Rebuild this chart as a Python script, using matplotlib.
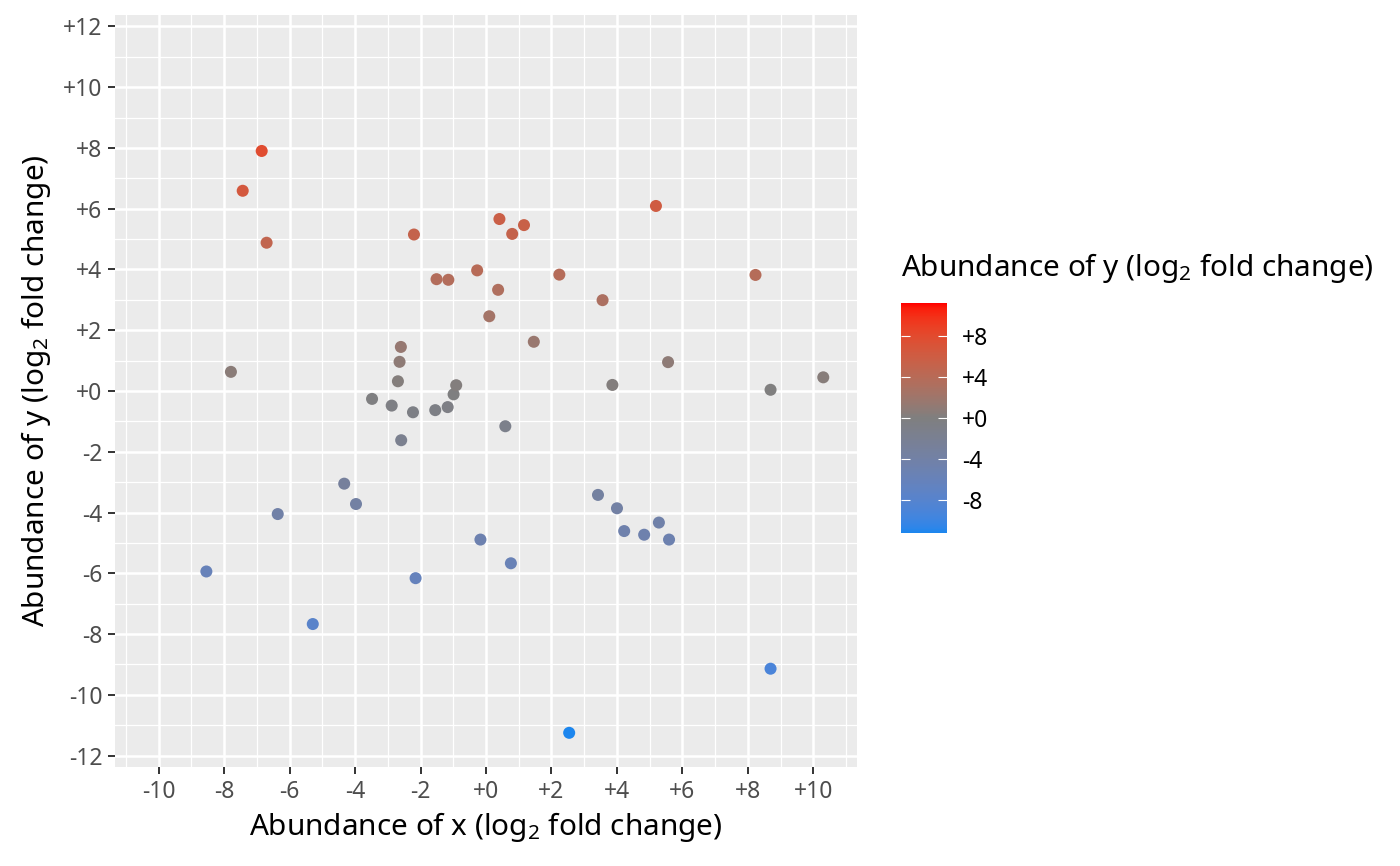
import numpy as np
import matplotlib
matplotlib.use("Agg")
import matplotlib.pyplot as plt
from matplotlib.colors import ListedColormap, Normalize
from matplotlib.cm import ScalarMappable
from matplotlib.ticker import FixedLocator, FuncFormatter

plt.rcParams["font.family"] = ["Noto Sans", "DejaVu Sans"]
plt.rcParams["mathtext.fontset"] = "custom"
plt.rcParams["mathtext.rm"] = "Noto Sans"
plt.rcParams["mathtext.it"] = "Noto Sans:italic"

# log2 fold changes
x_vals = [-6.85, -7.43, -6.70, -2.20, 0.41, 0.80, 1.16, -1.51, -1.15, -0.27,
          0.37, 0.10, 1.46, -7.79, -2.60, -2.64, -2.69, -3.48, -2.88, -2.23,
          -1.55, -1.17, -0.99, -0.91, 0.59, -2.59,
          5.19, 2.24, 3.56, 5.56, 3.86, 8.23, 8.69, 10.30,
          3.42, 4.00, 4.22, 4.83, 5.28, 5.59, 2.54, 8.69,
          -8.54, -6.36, -4.33, -3.97, -5.29, -2.15, -0.17, 0.76]
y_vals = [7.90, 6.59, 4.88, 5.15, 5.66, 5.17, 5.46, 3.68, 3.66, 3.97,
          3.33, 2.46, 1.62, 0.63, 1.45, 0.96, 0.32, -0.26, -0.48, -0.70,
          -0.63, -0.53, -0.11, 0.19, -1.16, -1.62,
          6.09, 3.83, 2.99, 0.95, 0.20, 3.82, 0.04, 0.45,
          -3.42, -3.86, -4.61, -4.73, -4.33, -4.89, -11.25, -9.14,
          -5.94, -4.05, -3.05, -3.72, -7.67, -6.16, -4.89, -5.67]

ticks = [-12, -10, -8, -6, -4, -2, 0, 2, 4, 6, 8, 10, 12]
cbar_ticks = [-8, -4, 0, 4, 8]
low_col, mid_col, high_col = "#1C86EE", "#7F7F7F", "#FF0000"

x = np.array(x_vals)
y = np.array(y_vals)

# gradient2-like ramp, interpolated in CIELAB
M = np.array([[0.4124, 0.3576, 0.1805],
              [0.2126, 0.7152, 0.0722],
              [0.0193, 0.1192, 0.9505]])
white = np.array([0.95047, 1.0, 1.08883])


def to_lab(hexcol):
    c = np.array(matplotlib.colors.to_rgb(hexcol))
    lin = np.where(c <= 0.04045, c / 12.92, ((c + 0.055) / 1.055) ** 2.4)
    xyz = M @ lin / white
    f = np.where(xyz > 0.008856, np.cbrt(xyz), 7.787 * xyz + 16 / 116)
    return np.array([116 * f[1] - 16, 500 * (f[0] - f[1]), 200 * (f[1] - f[2])])


def from_lab(lab):
    fy = (lab[0] + 16) / 116
    f = np.array([fy + lab[1] / 500, fy, fy - lab[2] / 200])
    xyz = np.where(f ** 3 > 0.008856, f ** 3, (f - 16 / 116) / 7.787) * white
    lin = np.clip(np.linalg.inv(M) @ xyz, 0, 1)
    c = np.where(lin <= 0.0031308, 12.92 * lin, 1.055 * lin ** (1 / 2.4) - 0.055)
    return np.clip(c, 0, 1)


lo, mi, hi = to_lab(low_col), to_lab(mid_col), to_lab(high_col)
ramp = []
for t in np.linspace(0, 1, 256):
    if t < 0.5:
        u = t * 2
        ramp.append(from_lab(lo + (mi - lo) * u))
    else:
        u = (t - 0.5) * 2
        ramp.append(from_lab(mi + (hi - mi) * u))
cmap = ListedColormap(ramp)

clim = np.abs(y).max()
norm = Normalize(-clim, clim)

fig = plt.figure(figsize=(14, 8.66), dpi=100)
ax = fig.add_axes([115 / 1400, 1 - 767 / 866, 742 / 1400, 752 / 866])

ax.set_facecolor("#EBEBEB")
for s in ax.spines.values():
    s.set_visible(False)

xl = np.abs(x).max() * 1.1
yl = np.abs(y).max() * 1.1
ax.set_xlim(-xl, xl)
ax.set_ylim(-yl, yl)

fmt = FuncFormatter(lambda v, p: f"{int(round(v)):+d}")
ax.xaxis.set_major_locator(FixedLocator(ticks))
ax.yaxis.set_major_locator(FixedLocator(ticks))
ax.xaxis.set_minor_locator(FixedLocator(np.arange(-13, 14, 2)))
ax.yaxis.set_minor_locator(FixedLocator(np.arange(-13, 14, 2)))
ax.xaxis.set_major_formatter(fmt)
ax.yaxis.set_major_formatter(fmt)

ax.grid(which="major", color="white", linewidth=1.8)
ax.grid(which="minor", color="white", linewidth=0.9)
ax.set_axisbelow(True)
ax.tick_params(which="major", length=5, width=1.4, color="#333333",
               labelsize=16.5, labelcolor="#4D4D4D", pad=4)
ax.tick_params(which="minor", length=0)

ax.scatter(x, y, c=y, cmap=cmap, norm=norm, s=75, linewidths=0, zorder=3)

ax.set_xlabel(r"Abundance of x (log$_2$ fold change)", fontsize=21.4, labelpad=5)
ax.set_ylabel(r"Abundance of y (log$_2$ fold change)", fontsize=21.4, labelpad=7)

# colour bar
cax = fig.add_axes([901 / 1400, 1 - 533 / 866, 46 / 1400, 230 / 866])
sm = ScalarMappable(norm=norm, cmap=cmap)
cb = fig.colorbar(sm, cax=cax)
cb.outline.set_visible(False)
cb.set_ticks(cbar_ticks)
cb.set_ticklabels([f"{t:+d}" for t in cbar_ticks])
cax.tick_params(direction="in", length=6.5, width=0.8, color="white",
                left=True, right=True, labelsize=16.5, labelcolor="black", pad=11)

fig.text(901 / 1400, 1 - 268 / 866, r"Abundance of y (log$_2$ fold change)",
         fontsize=21.4, ha="left", va="center")

fig.savefig("out.png", dpi=100)
